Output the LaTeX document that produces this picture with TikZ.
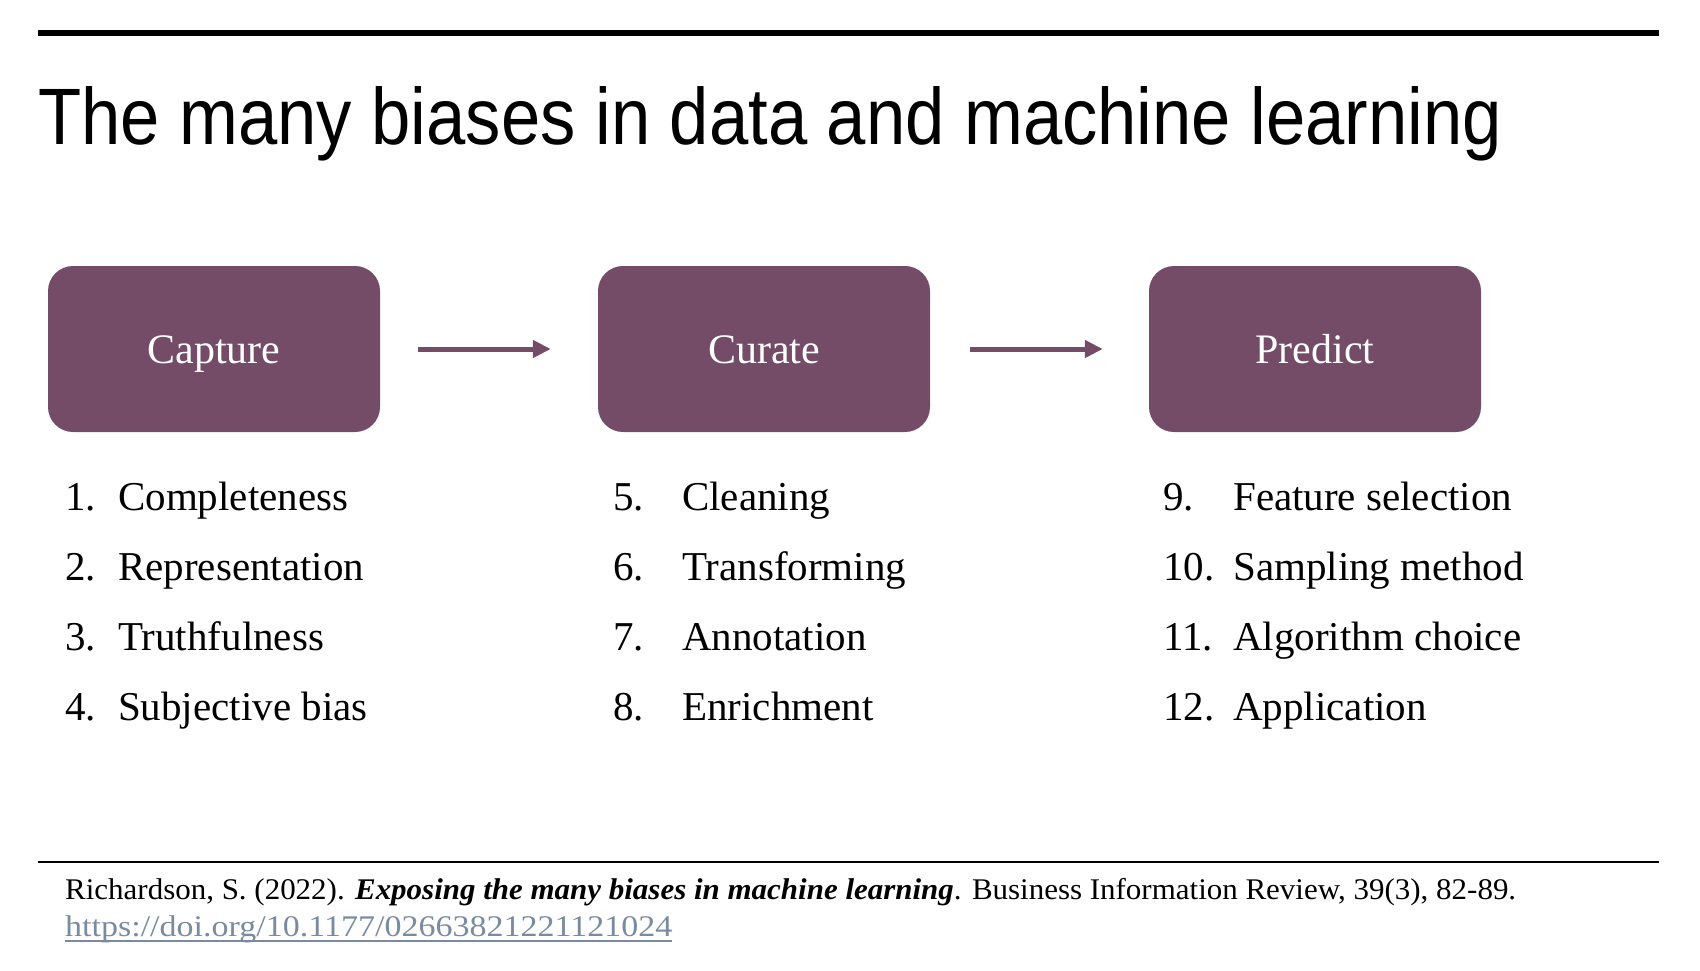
\documentclass[tikz,border=0pt]{standalone}
\usepackage{fontspec}
\usepackage{graphicx}
\setmainfont{Liberation Serif}
\newfontfamily\titlefont{Liberation Sans}
\usetikzlibrary{arrows.meta}
\definecolor{boxcol}{RGB}{116,76,103}
\definecolor{linkcol}{RGB}{122,138,160}
\tikzset{
  stagebox/.style={fill=boxcol, draw=none, rounded corners=25pt, minimum width=332pt, minimum height=166pt, text height=29pt, text depth=0pt, text=white, font=\fontsize{42}{50}\selectfont},
  flowarrow/.style={draw=boxcol, line width=5pt, -{Triangle[length=18pt,width=17pt]}},
  itemtext/.style={anchor=base west, inner sep=0pt, font=\fontsize{41}{48}\selectfont},
  rule/.style={draw=black}
}
\begin{document}
\begin{tikzpicture}[x=1pt,y=-1pt]
\useasboundingbox (0,0) rectangle (1700,970);
% top rule
\coordinate (tl) at (38,33);
\coordinate (tr) at (1659,33);
\draw[rule, line width=6pt] (tl) -- (tr);
% title
\node[anchor=base west, inner sep=0pt] (title) at (38,144)
  {\titlefont\fontsize{80}{90}\selectfont\resizebox{1464pt}{\height}{The many biases in data and machine learning}};
% boxes
\node[stagebox] (cap) at (214,349) {Capture};
\node[stagebox] (cur) at (764,349) {Curate};
\node[stagebox] (pre) at (1315,349) {Predict};
\draw[flowarrow] ([xshift=38pt]cap.east) -- ([xshift=-47pt]cur.west);
\draw[flowarrow] ([xshift=40pt]cur.east) -- ([xshift=-46pt]pre.west);
% column 1
\node[itemtext] (n1) at (65,510) {1.};
\node[itemtext] (t1) at (118,510) {Completeness};
\node[itemtext] (n2) at (65,580) {2.};
\node[itemtext] (t2) at (118,580) {Representation};
\node[itemtext] (n3) at (65,650) {3.};
\node[itemtext] (t3) at (118,650) {Truthfulness};
\node[itemtext] (n4) at (65,720) {4.};
\node[itemtext] (t4) at (118,720) {Subjective bias};
% column 2
\node[itemtext] (n5) at (613,510) {5.};
\node[itemtext] (t5) at (682,510) {Cleaning};
\node[itemtext] (n6) at (613,580) {6.};
\node[itemtext] (t6) at (682,580) {Transforming};
\node[itemtext] (n7) at (613,650) {7.};
\node[itemtext] (t7) at (682,650) {Annotation};
\node[itemtext] (n8) at (613,720) {8.};
\node[itemtext] (t8) at (682,720) {Enrichment};
% column 3
\node[itemtext] (n9) at (1163,510) {9.};
\node[itemtext] (t9) at (1233,510) {Feature selection};
\node[itemtext] (n10) at (1163,580) {10.};
\node[itemtext] (t10) at (1233,580) {Sampling method};
\node[itemtext] (n11) at (1163,650) {11.};
\node[itemtext] (t11) at (1233,650) {Algorithm choice};
\node[itemtext] (n12) at (1163,720) {12.};
\node[itemtext] (t12) at (1233,720) {Application};
% footer
\coordinate (bl) at (38,862);
\coordinate (br) at (1659,862);
\draw[rule, line width=2pt] (bl) -- (br);
\node[anchor=base west, inner sep=0pt, font=\fontsize{30}{34}\selectfont] (ref) at (65,899)
  {\resizebox{1451pt}{\height}{Richardson, S. (2022). \textbf{\textit{Exposing the many biases in machine learning}}. Business Information Review, 39(3), 82-89.}};
\node[anchor=base west, inner sep=0pt, font=\fontsize{30}{34}\selectfont, text=linkcol] (doi) at (65,936)
  {\resizebox{607pt}{\height}{https://doi.org/10.1177/02663821221121024}};
\draw[linkcol, line width=2pt] ([yshift=-5pt]doi.base west) -- ([yshift=-5pt]doi.base east);
\end{tikzpicture}
\end{document}
